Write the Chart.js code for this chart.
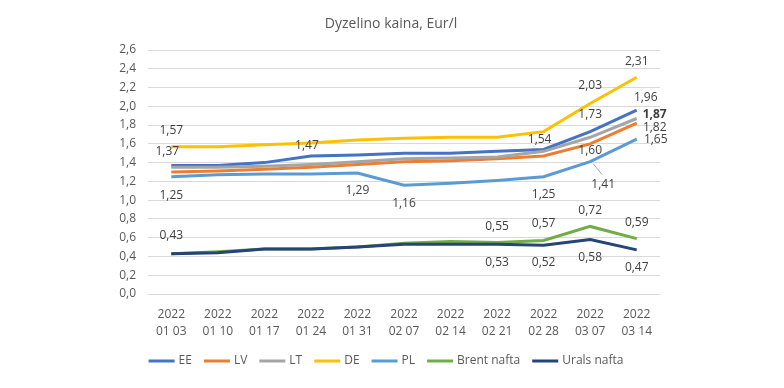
<!DOCTYPE html>
<html>
<head>
<meta charset="utf-8">
<script src="https://cdn.jsdelivr.net/npm/chart.js@4.4.1/dist/chart.umd.min.js"></script>
<style>
  html, body { margin: 0; padding: 0; background: #fff; }
  #wrap { width: 784px; height: 388px; position: relative; }
</style>
</head>
<body>
<div id="wrap"><canvas id="chart"></canvas></div>
<script>
// data
const title = 'Dyzelino kaina, Eur/l';
const years = '2022';
const dates = ['01 03', '01 10', '01 17', '01 24', '01 31', '02 07', '02 14', '02 21', '02 28', '03 07', '03 14'];
const seriesNames = ['EE', 'LV', 'LT', 'DE', 'PL', 'Brent nafta', 'Urals nafta'];
const ee = [1.37, 1.37, 1.40, 1.47, 1.48, 1.50, 1.50, 1.52, 1.54, 1.73, 1.96];
const lv = [1.30, 1.31, 1.33, 1.35, 1.38, 1.41, 1.42, 1.44, 1.47, 1.60, 1.82];
const lt = [1.35, 1.35, 1.36, 1.38, 1.41, 1.44, 1.45, 1.46, 1.52, 1.67, 1.87];
const de = [1.57, 1.57, 1.59, 1.61, 1.64, 1.66, 1.67, 1.67, 1.73, 2.03, 2.31];
const pl = [1.25, 1.27, 1.28, 1.28, 1.29, 1.16, 1.18, 1.21, 1.25, 1.41, 1.65];
const brent = [0.43, 0.45, 0.48, 0.48, 0.50, 0.54, 0.56, 0.55, 0.57, 0.72, 0.59];
const urals = [0.43, 0.44, 0.48, 0.48, 0.50, 0.53, 0.53, 0.53, 0.52, 0.58, 0.47];
const yTicks = [0, 0.2, 0.4, 0.6, 0.8, 1.0, 1.2, 1.4, 1.6, 1.8, 2.0, 2.2, 2.4, 2.6];

const colors = ['#4472C4', '#ED7D31', '#A5A5A5', '#FFC000', '#5B9BD5', '#70AD47', '#264478'];
const values = [ee, lv, lt, de, pl, brent, urals];

// which points carry a value label, and where it sits relative to the point
const pointLabels = [
  { ds: 3, i: 0, dx: 0, dy: -16 }, { ds: 3, i: 9, dx: 0, dy: -18 }, { ds: 3, i: 10, dx: 0, dy: -16 },
  { ds: 0, i: 0, dx: -4, dy: -14 }, { ds: 0, i: 3, dx: -4, dy: -10 }, { ds: 0, i: 8, dx: -4, dy: -10 },
  { ds: 0, i: 9, dx: 0, dy: -17 }, { ds: 0, i: 10, dx: 9, dy: -12 },
  { ds: 2, i: 10, dx: 18, dy: -4, bold: true },
  { ds: 1, i: 9, dx: 0, dy: 7 }, { ds: 1, i: 10, dx: 18, dy: 4 },
  { ds: 4, i: 0, dx: 0, dy: 19 }, { ds: 4, i: 4, dx: 0, dy: 18 }, { ds: 4, i: 5, dx: 0, dy: 18 },
  { ds: 4, i: 8, dx: 0, dy: 18 }, { ds: 4, i: 9, dx: 13, dy: 23, leader: true }, { ds: 4, i: 10, dx: 19, dy: 0 },
  { ds: 5, i: 0, dx: 0, dy: -18 }, { ds: 5, i: 7, dx: 0, dy: -16 }, { ds: 5, i: 8, dx: 0, dy: -17 },
  { ds: 5, i: 9, dx: 0, dy: -16 }, { ds: 5, i: 10, dx: 0, dy: -16 },
  { ds: 6, i: 7, dx: 0, dy: 18 }, { ds: 6, i: 8, dx: 0, dy: 17 }, { ds: 6, i: 9, dx: 0, dy: 18 }, { ds: 6, i: 10, dx: 0, dy: 18 }
];

const FONT = "'Open Sans', 'DejaVu Sans', sans-serif";
const fmt = (v, d) => v.toFixed(d).replace('.', ',');

const valueLabels = {
  id: 'valueLabels',
  afterDatasetsDraw(chart) {
    const ctx = chart.ctx;
    ctx.save();
    ctx.textAlign = 'center';
    ctx.textBaseline = 'middle';
    pointLabels.forEach(function(l) {
      const pt = chart.getDatasetMeta(l.ds).data[l.i];
      const x = pt.x + l.dx, y = pt.y + l.dy;
      if (l.leader) {
        ctx.strokeStyle = '#A6A6A6';
        ctx.lineWidth = 1;
        ctx.beginPath();
        ctx.moveTo(pt.x + 3, pt.y + 2);
        ctx.lineTo(x - 1, y - 10);
        ctx.stroke();
      }
      ctx.font = (l.bold ? 'bold ' : '') + '12px ' + FONT;
      ctx.fillStyle = '#404040';
      ctx.fillText(fmt(values[l.ds][l.i], 2), x, y);
    });
    ctx.restore();
  }
};

// title and legend are drawn by hand so they sit where the reference has them
const titleAndLegend = {
  id: 'titleAndLegend',
  afterDraw(chart) {
    const ctx = chart.ctx;
    ctx.save();
    ctx.textBaseline = 'middle';
    ctx.textAlign = 'center';
    ctx.font = '14px ' + FONT;
    ctx.fillStyle = '#595959';
    ctx.fillText(title, 391, 24);

    ctx.textAlign = 'left';
    ctx.font = '12px ' + FONT;
    const lineW = 26, gap = 4, spacing = 12;
    const widths = seriesNames.map(n => lineW + gap + ctx.measureText(n).width);
    const total = widths.reduce((a, b) => a + b, 0) + spacing * (widths.length - 1);
    let x = 386 - total / 2;
    const y = 361;
    seriesNames.forEach(function(n, k) {
      ctx.strokeStyle = colors[k];
      ctx.lineWidth = 3;
      ctx.beginPath();
      ctx.moveTo(x, y);
      ctx.lineTo(x + lineW, y);
      ctx.stroke();
      ctx.fillStyle = '#595959';
      ctx.fillText(n, x + lineW + gap, y);
      x += widths[k] + spacing;
    });
    ctx.restore();
  }
};

const ctx = document.getElementById('chart').getContext('2d');
const chart = new Chart(ctx, {
  type: 'line',
  data: {
    labels: dates.map(d => [years, d]),
    datasets: seriesNames.map(function(name, k) {
      return {
        label: name,
        data: values[k],
        borderColor: colors[k],
        backgroundColor: colors[k],
        borderWidth: 3,
        pointRadius: 0,
        tension: 0,
        order: seriesNames.length - k
      };
    })
  },
  options: {
    responsive: true,
    maintainAspectRatio: false,
    animation: false,
    layout: { padding: { left: 100, right: 124, top: 50, bottom: 50 } },
    plugins: {
      legend: { display: false },
      tooltip: { enabled: false },
      title: { display: false }
    },
    scales: {
      x: {
        offset: true,
        grid: { display: false },
        border: { display: false },
        ticks: {
          color: '#595959',
          font: { family: FONT, size: 12, lineHeight: 1.4 },
          padding: 4,
          maxRotation: 0,
          autoSkip: false
        },
        afterFit: function(s) { s.height = 44; }
      },
      y: {
        min: 0,
        max: 2.6,
        afterBuildTicks: function(s) { s.ticks = yTicks.map(v => ({ value: v })); },
        grid: { color: '#D9D9D9', lineWidth: 1, drawTicks: false },
        border: { display: false },
        ticks: {
          color: '#595959',
          font: { family: FONT, size: 12 },
          padding: 12,
          callback: v => fmt(v, 1)
        },
        afterFit: function(s) { s.width = 48; }
      }
    }
  },
  plugins: [valueLabels, titleAndLegend]
});
</script>
</body>
</html>
